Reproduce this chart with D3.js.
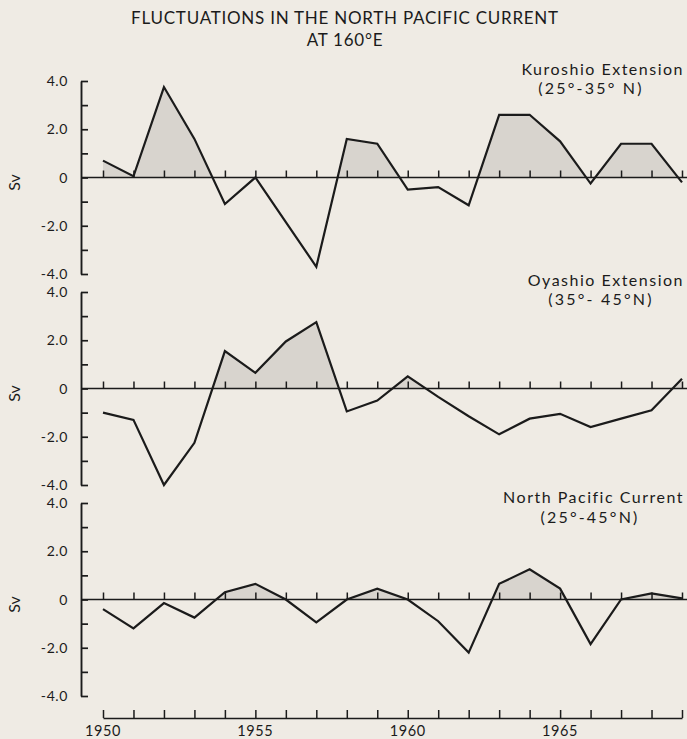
<!DOCTYPE html>
<html>
<head>
<meta charset="utf-8">
<script src="https://cdn.jsdelivr.net/npm/d3@7"></script>
<style>
	html, body { margin: 0; padding: 0; background: #efebe4; }
	svg { display: block; font-family: "Lato", "DejaVu Sans", sans-serif; }
</style>
</head>
<body>
<div id="chart"></div>
<script>
// years along the bottom (one point per year)
const years = [1950, 1951, 1952, 1953, 1954, 1955, 1956, 1957, 1958, 1959,
	1960, 1961, 1962, 1963, 1964, 1965, 1966, 1967, 1968, 1969]

// transport anomalies in Sv
const kuroshio = [0.7, 0.05, 3.75, 1.6, -1.1, 0.0, -1.85, -3.7, 1.6, 1.4,
	-0.5, -0.4, -1.15, 2.6, 2.6, 1.5, -0.25, 1.4, 1.4, -0.2]
const oyashio = [-1.0, -1.3, -4.0, -2.25, 1.55, 0.65, 1.95, 2.75, -0.95, -0.5,
	0.5, -0.35, -1.15, -1.9, -1.25, -1.05, -1.6, -1.25, -0.9, 0.4]
const northPacific = [-0.4, -1.2, -0.15, -0.75, 0.3, 0.65, 0.0, -0.95, 0.0, 0.45,
	0.0, -0.9, -2.2, 0.65, 1.25, 0.45, -1.85, 0.0, 0.25, 0.05]

const panelNames = ["Kuroshio Extension", "Oyashio Extension", "North Pacific Current"]
const panelBands = ["(25°-35° N)", "(35°- 45°N)", "(25°-45°N)"]
const series = [kuroshio, oyashio, northPacific]

const yTicks = [-4, -3, -2, -1, 0, 1, 2, 3, 4]
const yLabels = { "4": "4.0", "2": "2.0", "0": "0", "-2": "-2.0", "-4": "-4.0" }
const xLabelYears = [1950, 1955, 1960, 1965]

const width = 687
const height = 739
const axisX = 81
const panelTops = [81, 292, 503]
const panelH = 193
// label offsets from panel top, and centre of the second line
const labelDy = [[-6, 13], [-6, 13], [0, 20]]
const bandX = [591, 601, 590]

const svg = d3.select("#chart")
	.append("svg")
	.attr("width", width)
	.attr("height", height)

svg.append("rect")
	.attr("width", width)
	.attr("height", height)
	.attr("fill", "#efebe4")

const ink = "#1b1b1b"

// Title
svg.append("text")
	.attr("x", 345)
	.attr("y", 24)
	.attr("text-anchor", "middle")
	.style("font-size", "17px")
	.style("letter-spacing", "0.75px")
	.style("fill", ink)
	.text("FLUCTUATIONS IN THE NORTH PACIFIC CURRENT")

svg.append("text")
	.attr("x", 345)
	.attr("y", 46)
	.attr("text-anchor", "middle")
	.style("font-size", "17px")
	.style("letter-spacing", "0.75px")
	.style("fill", ink)
	.text("AT 160°E")

const x = d3.scaleLinear()
	.domain([1950, 1969])
	.range([103, 682])

series.forEach((values, i) => {
	const top = panelTops[i]
	const y = d3.scaleLinear().domain([-4, 4]).range([top + panelH, top])
	const g = svg.append("g").attr("class", "panel")
	const pts = years.map((yr, j) => ({ year: yr, v: values[j] }))

	// shaded positive part: area to zero, clipped above the zero line
	const clipId = "clip-pos-" + i
	svg.append("clipPath")
		.attr("id", clipId)
		.append("rect")
		.attr("x", 0)
		.attr("y", top - 10)
		.attr("width", width)
		.attr("height", y(0) - top + 10)

	const area = d3.area()
		.x((d) => x(d.year))
		.y0(y(0))
		.y1((d) => y(d.v))

	g.append("path")
		.datum(pts)
		.attr("clip-path", `url(#${clipId})`)
		.attr("fill", "#d8d4ce")
		.attr("d", area)

	// y axis: ticks point right, into the plot
	const yAxis = d3.axisRight(y)
		.tickValues(yTicks)
		.tickSize(7)
		.tickSizeOuter(0)
		.tickFormat("")

	const ya = g.append("g")
		.attr("transform", `translate(${axisX},0)`)
		.call(yAxis)
	ya.select(".domain").attr("stroke", ink).attr("stroke-width", 1.9)
	ya.selectAll(".tick line").attr("stroke", ink).attr("stroke-width", 1.7)

	yTicks.filter((t) => yLabels[t] !== undefined).forEach((t) => {
		g.append("text")
			.attr("x", axisX - 13)
			.attr("y", y(t))
			.attr("dy", "0.36em")
			.attr("text-anchor", "end")
			.style("font-size", "14px")
			.style("letter-spacing", "0.6px")
			.style("fill", ink)
			.text(yLabels[t])
	})

	// zero line with year ticks
	const zeroAxis = d3.axisTop(x)
		.tickValues(years)
		.tickSize(7)
		.tickSizeOuter(0)
		.tickFormat("")
	const za = g.append("g")
		.attr("transform", `translate(0,${y(0)})`)
		.call(zeroAxis)
	za.select(".domain").remove()
	za.selectAll(".tick line").attr("stroke", ink).attr("stroke-width", 1.5)
	g.append("line")
		.attr("x1", axisX)
		.attr("x2", width)
		.attr("y1", y(0))
		.attr("y2", y(0))
		.attr("stroke", ink)
		.attr("stroke-width", 1.7)

	// data line
	const line = d3.line()
		.x((d) => x(d.year))
		.y((d) => y(d.v))
	g.append("path")
		.datum(pts)
		.attr("fill", "none")
		.attr("stroke", ink)
		.attr("stroke-width", 2.2)
		.attr("stroke-linejoin", "miter")
		.attr("d", line)

	// Sv label
	g.append("text")
		.attr("transform", `translate(20,${y(0) + 5}) rotate(-90)`)
		.attr("text-anchor", "middle")
		.style("font-size", "16px")
		.style("fill", ink)
		.text("Sv")

	// panel label
	g.append("text")
		.attr("x", 684)
		.attr("y", top + labelDy[i][0])
		.attr("text-anchor", "end")
		.style("font-size", "16px")
		.style("letter-spacing", "1.5px")
		.style("fill", ink)
		.text(panelNames[i])
	g.append("text")
		.attr("x", bandX[i])
		.attr("y", top + labelDy[i][1])
		.attr("text-anchor", "middle")
		.style("font-size", "16px")
		.style("letter-spacing", "2.2px")
		.style("fill", ink)
		.text(panelBands[i])
})

// bottom time axis
const bottomY = 718
const xa = svg.append("g")
	.attr("transform", `translate(0,${bottomY})`)
	.call(d3.axisTop(x).tickValues(years).tickSize(8).tickSizeOuter(0).tickFormat(""))
xa.select(".domain").attr("stroke", ink).attr("stroke-width", 1.7)
xa.selectAll(".tick line").attr("stroke", ink).attr("stroke-width", 1.5)

svg.selectAll(".year-label")
	.data(xLabelYears)
	.join("text")
	.attr("class", "year-label")
	.attr("x", (d) => x(d))
	.attr("y", bottomY + 18)
	.attr("text-anchor", "middle")
	.style("font-size", "14.5px")
	.style("letter-spacing", "0.6px")
	.style("fill", ink)
	.text((d) => d)
</script>
</body>
</html>
